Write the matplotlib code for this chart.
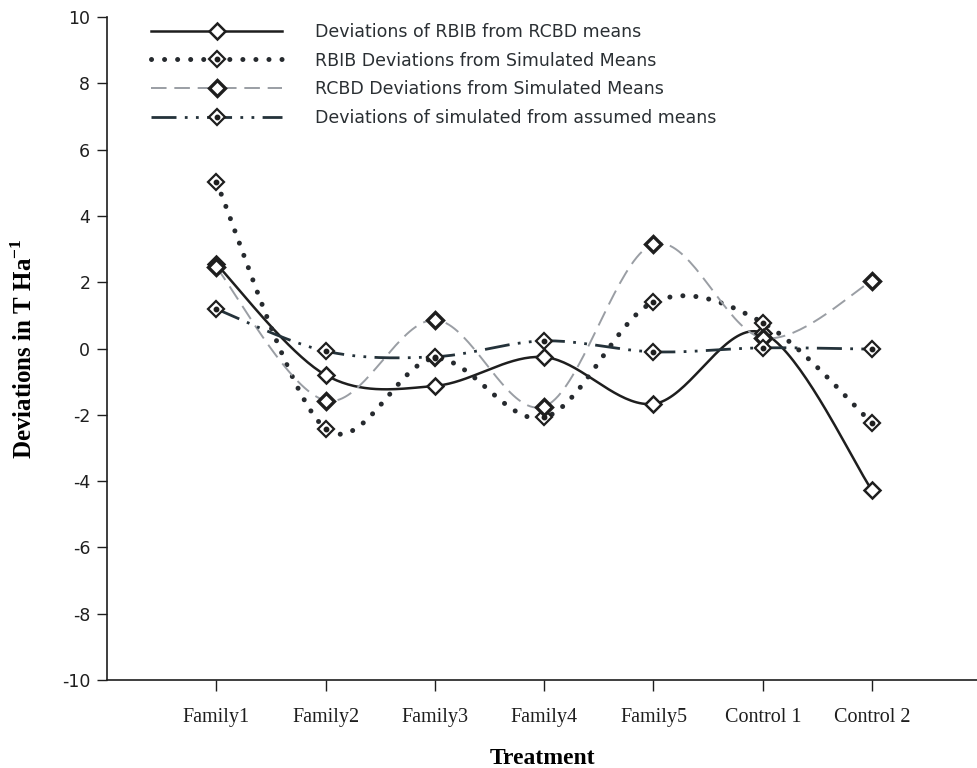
import numpy as np
import matplotlib.pyplot as plt
from matplotlib.legend_handler import HandlerTuple

plt.rcParams['axes.unicode_minus'] = False

treatments = ['Family1', 'Family2', 'Family3', 'Family4', 'Family5', 'Control 1', 'Control 2']

rbib_vs_rcbd = [2.55, -0.80, -1.13, -0.26, -1.67, 0.47, -4.28]
rbib_vs_sim = [5.02, -2.42, -0.30, -2.08, 1.40, 0.78, -2.25]
rcbd_vs_sim = [2.45, -1.57, 0.86, -1.75, 3.15, 0.32, 2.04]
sim_vs_assumed = [1.19, -0.08, -0.25, 0.23, -0.10, 0.02, -0.02]

labels = ['Deviations of RBIB from RCBD means',
          'RBIB Deviations from Simulated Means',
          'RCBD Deviations from Simulated Means',
          'Deviations of simulated from assumed means']


def smooth(y, n=40):
    # Catmull-Rom style smoothing through every point (like spreadsheet "smoothed line")
    y = np.asarray(y, float)
    x = np.arange(len(y), dtype=float)
    pts = np.column_stack([x, y])
    ext = np.vstack([pts[0], pts, pts[-1]])
    out = []
    t = np.linspace(0, 1, n)[:, None]
    for i in range(len(pts) - 1):
        p0, p1, p2, p3 = ext[i], ext[i + 1], ext[i + 2], ext[i + 3]
        c1 = p1 + (p2 - p0) / 6
        c2 = p2 - (p3 - p1) / 6
        seg = ((1 - t) ** 3) * p1 + 3 * ((1 - t) ** 2) * t * c1 + 3 * (1 - t) * t ** 2 * c2 + t ** 3 * p2
        out.append(seg if i == 0 else seg[1:])
    out = np.vstack(out)
    return out[:, 0], out[:, 1]


dark = '#1e1e1e'
styles = [
    dict(color=dark, lw=1.8, ls='-'),
    dict(color='#262a2e', lw=3.6, ls=(0, (0.01, 2.6)), dash_capstyle='round'),
    dict(color='#9a9ea4', lw=1.4, ls=(0, (8, 4))),
    dict(color='#24323a', lw=2.0, ls=(0, (9, 3, 1, 3, 1, 3))),
]
inner_dot = [False, True, False, True]
edge_w = [1.8, 1.6, 2.4, 1.6]

fig = plt.figure(figsize=(9.77, 7.68), dpi=100)
ax = fig.add_axes([107 / 977, 1 - 680 / 768, 870 / 977, 663 / 768])

x = np.arange(len(treatments))
handles = []
for series, st, dot, mew in zip([rbib_vs_rcbd, rbib_vs_sim, rcbd_vs_sim, sim_vs_assumed],
                                styles, inner_dot, edge_w):
    sx, sy = smooth(series)
    ax.plot(sx, sy, **st)
    ax.plot(x, series, ls='none', marker='D', ms=8, mfc='white', mec=dark, mew=mew, zorder=3)
    line_h = plt.Line2D([], [], **st)
    mk_h = plt.Line2D([], [], ls='none', marker='D', ms=8, mfc='white', mec=dark, mew=mew)
    parts = [line_h, mk_h]
    if dot:
        ax.plot(x, series, ls='none', marker='o', ms=3.2, color=dark, zorder=4)
        parts.append(plt.Line2D([], [], ls='none', marker='o', ms=3.2, color=dark))
    handles.append(tuple(parts))

ax.set_xlim(-1, 6.96)
ax.set_ylim(-10, 10)
ax.set_yticks(np.arange(-10, 11, 2))
ax.set_xticks(x)
ax.set_xticklabels(treatments, family='Liberation Serif', fontsize=14.5)
ax.tick_params(axis='y', labelsize=12.5, length=7, width=1, pad=5, direction='out', colors=dark)
ax.tick_params(axis='x', length=8, width=1, pad=12, direction='out', colors=dark)

for side in ['top', 'right']:
    ax.spines[side].set_visible(False)
for side in ['left', 'bottom']:
    ax.spines[side].set_color(dark)
    ax.spines[side].set_linewidth(1.2)

ax.set_xlabel('Treatment', family='Liberation Serif', fontweight='bold', fontsize=17, labelpad=15)
ax.set_ylabel('Deviations in T Ha$^{\\mathregular{-1}}$', family='Liberation Serif',
              fontweight='bold', fontsize=18)
ax.yaxis.set_label_coords(-0.081, 0.5)

ax.legend(handles, labels, handler_map={tuple: HandlerTuple(ndivide=1, pad=0)},
          loc='upper left', bbox_to_anchor=(34 / 870, 1.007), frameon=False,
          fontsize=12.5, handlelength=7.5, handletextpad=1.9, labelspacing=0.62,
          borderaxespad=0.2, labelcolor='#2a2f33')

fig.savefig('out.png', dpi=100, facecolor='white')
